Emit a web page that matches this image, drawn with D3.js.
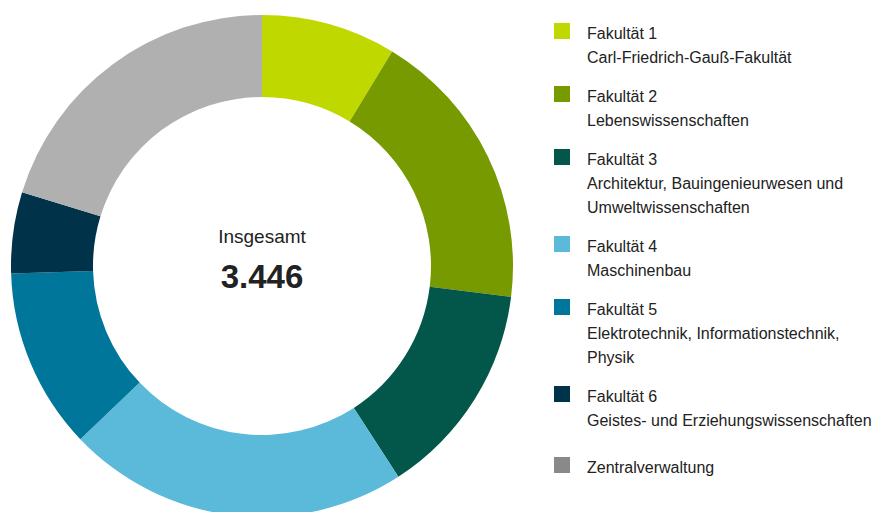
<!DOCTYPE html>
<html>
<head>
<meta charset="utf-8">
<script src="https://cdn.jsdelivr.net/npm/d3@7"></script>
<style>
  body { margin: 0; background: #fff; }
  text { font-family: Arial, "Liberation Sans", sans-serif; fill: #222; }
</style>
</head>
<body>
<div id="chart"></div>
<script>
// Data.
var titles = ['Fakultät 1', 'Fakultät 2', 'Fakultät 3', 'Fakultät 4', 'Fakultät 5', 'Fakultät 6', 'Zentralverwaltung'];
var subtitles = [
    ['Carl-Friedrich-Gauß-Fakultät'],
    ['Lebenswissenschaften'],
    ['Architektur, Bauingenieurwesen und', 'Umweltwissenschaften'],
    ['Maschinenbau'],
    ['Elektrotechnik, Informationstechnik,', 'Physik'],
    ['Geistes- und Erziehungswissenschaften'],
    []
];
var values = [299, 630, 479, 759, 401, 180, 698];
var sliceColors = ['#bed800', '#779a00', '#03574a', '#5bbad9', '#00769a', '#003349', '#afb0af'];
var legendColors = ['#bed800', '#779a00', '#03574a', '#5bbad9', '#00769a', '#003349', '#898989'];
var totalLabel = 'Insgesamt';

var width = 876, height = 512;
var cx = 262, cy = 266, outerR = 251, innerR = 169;

var svg = d3.select('#chart').append('svg')
    .attr('width', width)
    .attr('height', height);

// Donut.
var pie = d3.pie().sort(null).value(function (d) { return d; });
var arc = d3.arc().innerRadius(innerR).outerRadius(outerR);

var g = svg.append('g')
    .attr('transform', 'translate(' + cx + ',' + cy + ')');

g.selectAll('path')
    .data(pie(values))
    .enter()
    .append('path')
    .attr('d', arc)
    .attr('fill', function (d, i) { return sliceColors[i]; });

// Center label.
var total = d3.sum(values);
g.append('text')
    .attr('text-anchor', 'middle')
    .attr('y', -23)
    .style('font-size', '19px')
    .text(totalLabel);
g.append('text')
    .attr('text-anchor', 'middle')
    .attr('y', 22)
    .style('font-size', '33px')
    .style('font-weight', 'bold')
    .text(d3.format(',')(total).replace(/,/g, '.'));

// Legend.
var legend = svg.append('g').attr('transform', 'translate(554,0)');
var lineH = 24, gap = 39;
var y = 39;
titles.forEach(function (t, i) {
    if (i === titles.length - 1) y += 8;
    var item = legend.append('g');
    item.append('rect')
        .attr('x', 0)
        .attr('y', y - 16)
        .attr('width', 16)
        .attr('height', 16)
        .attr('fill', legendColors[i]);
    var lines = [t].concat(subtitles[i]);
    lines.forEach(function (l, j) {
        item.append('text')
            .attr('x', 33)
            .attr('y', y + j * lineH)
            .style('font-size', '16px')
            .text(l);
    });
    y += (lines.length - 1) * lineH + gap;
});
</script>
</body>
</html>
